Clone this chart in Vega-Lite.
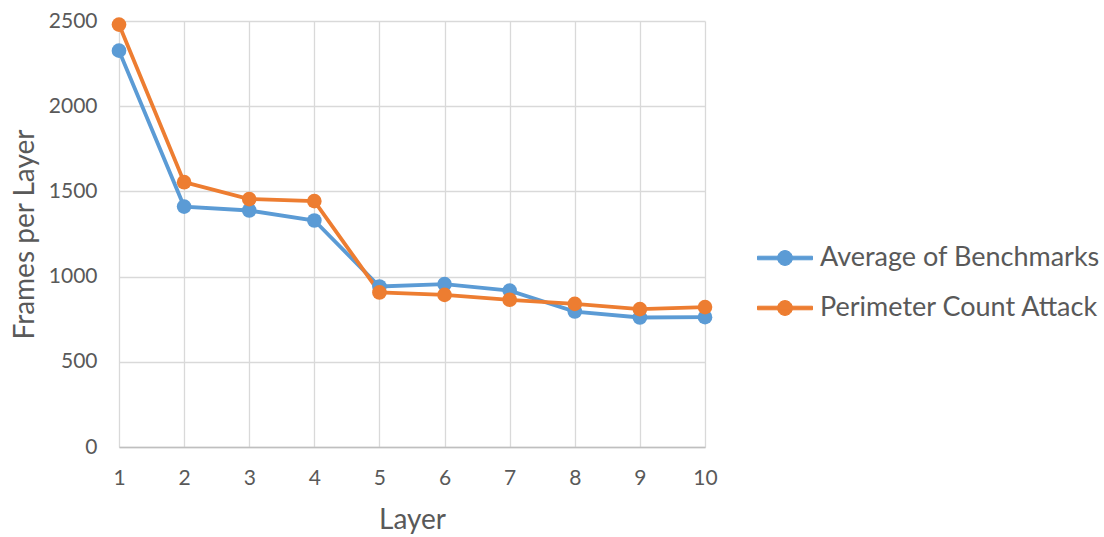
{
  "$schema": "https://vega.github.io/schema/vega-lite/v6.json",
  "width": 586,
  "height": 426,
  "autosize": {"type": "none"},
  "padding": {"left": 119, "top": 21, "right": 399, "bottom": 90},
  "background": "white",
  "config": {
    "font": "Lato",
    "view": {"stroke": null},
    "axis": {
      "labelColor": "#595959",
      "titleColor": "#595959",
      "labelFont": "Lato",
      "titleFont": "Lato",
      "gridColor": "#D9D9D9",
      "gridWidth": 1.3,
      "ticks": false
    }
  },
  "data": {
    "values": [
      {"layer": 1, "series": "Average of Benchmarks", "value": 2326},
      {"layer": 2, "series": "Average of Benchmarks", "value": 1411},
      {"layer": 3, "series": "Average of Benchmarks", "value": 1388},
      {"layer": 4, "series": "Average of Benchmarks", "value": 1329},
      {"layer": 5, "series": "Average of Benchmarks", "value": 942},
      {"layer": 6, "series": "Average of Benchmarks", "value": 956},
      {"layer": 7, "series": "Average of Benchmarks", "value": 918},
      {"layer": 8, "series": "Average of Benchmarks", "value": 795},
      {"layer": 9, "series": "Average of Benchmarks", "value": 760},
      {"layer": 10, "series": "Average of Benchmarks", "value": 762},
      {"layer": 1, "series": "Perimeter Count Attack", "value": 2479},
      {"layer": 2, "series": "Perimeter Count Attack", "value": 1554},
      {"layer": 3, "series": "Perimeter Count Attack", "value": 1455},
      {"layer": 4, "series": "Perimeter Count Attack", "value": 1443},
      {"layer": 5, "series": "Perimeter Count Attack", "value": 907},
      {"layer": 6, "series": "Perimeter Count Attack", "value": 893},
      {"layer": 7, "series": "Perimeter Count Attack", "value": 864},
      {"layer": 8, "series": "Perimeter Count Attack", "value": 840},
      {"layer": 9, "series": "Perimeter Count Attack", "value": 809},
      {"layer": 10, "series": "Perimeter Count Attack", "value": 821}
    ]
  },
  "encoding": {
    "x": {
      "field": "layer",
      "type": "quantitative",
      "scale": {"domain": [1, 10], "nice": false, "zero": false},
      "axis": {
        "title": "Layer",
        "values": [1, 2, 3, 4, 5, 6, 7, 8, 9, 10],
        "format": "d",
        "labelFontSize": 21,
        "labelPadding": 20,
        "labelFlush": false,
        "titleFontSize": 28,
        "titleFontWeight": "normal",
        "titleY": 73,
        "titleBaseline": "middle",
        "domainColor": "#BFBFBF",
        "domainWidth": 1.5
      }
    },
    "y": {
      "field": "value",
      "type": "quantitative",
      "scale": {"domain": [0, 2500], "nice": false},
      "axis": {
        "title": "Frames per Layer",
        "values": [0, 500, 1000, 1500, 2000, 2500],
        "format": "d",
        "labelFontSize": 21,
        "labelPadding": 22,
        "titleFontSize": 28,
        "titleFontWeight": "normal",
        "titleX": -94,
        "titleY": 213,
        "titleBaseline": "middle",
        "domain": false
      }
    },
    "color": {
      "field": "series",
      "type": "nominal",
      "scale": {
        "domain": ["Average of Benchmarks", "Perimeter Count Attack"],
        "range": ["#5B9BD5", "#ED7D31"]
      },
      "legend": {
        "title": null,
        "orient": "none",
        "legendX": 638,
        "legendY": 209,
        "labelFontSize": 27,
        "labelColor": "#595959",
        "labelFont": "Lato",
        "labelLimit": 400,
        "symbolType": "M-1,-0.065H1V0.065H-1Z M-0.27,0A0.27,0.27 0 1,1 0.27,0A0.27,0.27 0 1,1 -0.27,0Z",
        "symbolSize": 3025,
        "symbolStrokeWidth": 1,
        "labelOffset": 7,
        "rowPadding": 9
      }
    }
  },
  "layer": [
    {"mark": {"type": "line", "strokeWidth": 3.8}},
    {"mark": {"type": "point", "filled": true, "size": 215, "opacity": 1}}
  ]
}
